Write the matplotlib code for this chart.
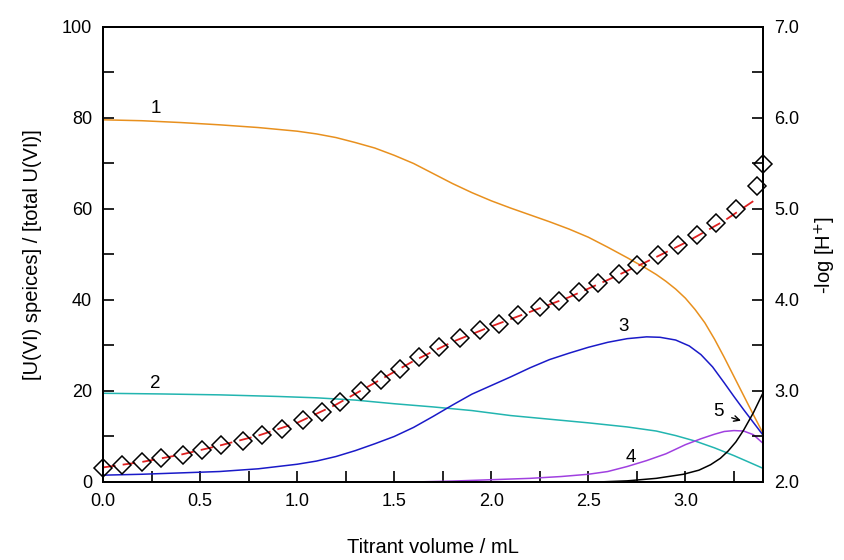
import numpy as np
import matplotlib.pyplot as plt
from matplotlib.ticker import MultipleLocator, FormatStrFormatter

# measured -log[H+] (diamonds)
vol_pts = [0.00, 0.10, 0.20, 0.30, 0.41, 0.51, 0.61, 0.72, 0.82, 0.92, 1.03, 1.13,
           1.22, 1.33, 1.43, 1.53, 1.63, 1.73, 1.84, 1.94, 2.04, 2.14, 2.25, 2.35,
           2.45, 2.55, 2.66, 2.75, 2.86, 2.96, 3.06, 3.16, 3.26, 3.37, 3.40]
ph_pts = [2.15, 2.19, 2.22, 2.26, 2.30, 2.35, 2.41, 2.45, 2.52, 2.58, 2.68, 2.77,
          2.88, 3.00, 3.12, 3.24, 3.37, 3.48, 3.58, 3.67, 3.74, 3.83, 3.92, 3.99,
          4.09, 4.19, 4.29, 4.38, 4.49, 4.60, 4.71, 4.85, 5.00, 5.25, 5.49]

# fitted -log[H+] (red dashed)
fit_vol = [0.0, 0.2, 0.4, 0.6, 0.8, 1.0, 1.2, 1.4, 1.6, 1.8, 2.0, 2.2, 2.4, 2.6,
           2.8, 3.0, 3.2, 3.38]
fit_ph = [2.16, 2.22, 2.30, 2.40, 2.51, 2.65, 2.85, 3.09, 3.33, 3.54, 3.71, 3.87,
          4.03, 4.22, 4.42, 4.63, 4.87, 5.13]

# species distribution curves (% of total U(VI))
c1_vol = [0.0, 0.2, 0.4, 0.6, 0.8, 0.9, 1.0, 1.1, 1.2, 1.3, 1.4, 1.5, 1.6, 1.7,
          1.8, 1.9, 2.0, 2.1, 2.2, 2.3, 2.4, 2.5, 2.6, 2.7, 2.8, 2.85, 2.9, 2.95,
          3.0, 3.05, 3.1, 3.15, 3.2, 3.25, 3.3, 3.35, 3.4]
c1 = [79.6, 79.4, 79.0, 78.5, 77.9, 77.5, 77.1, 76.5, 75.7, 74.6, 73.4, 71.8,
      70.0, 67.8, 65.6, 63.6, 61.8, 60.2, 58.7, 57.2, 55.6, 53.8, 51.6, 49.3,
      46.9, 45.6, 44.1, 42.4, 40.4, 37.9, 35.0, 31.4, 27.4, 23.2, 19.0, 14.8, 10.7]

c2_vol = [0.0, 0.3, 0.6, 0.9, 1.1, 1.3, 1.5, 1.7, 1.9, 2.1, 2.3, 2.5, 2.7, 2.85,
          2.95, 3.05, 3.15, 3.25, 3.32, 3.4]
c2 = [19.5, 19.35, 19.15, 18.8, 18.5, 18.0, 17.2, 16.5, 15.7, 14.6, 13.8, 13.0,
      12.1, 11.2, 10.2, 9.0, 7.5, 5.8, 4.5, 3.0]

c3_vol = [0.0, 0.2, 0.4, 0.6, 0.8, 1.0, 1.1, 1.2, 1.3, 1.4, 1.5, 1.6, 1.7, 1.8,
          1.9, 2.0, 2.1, 2.2, 2.3, 2.4, 2.5, 2.6, 2.7, 2.8, 2.87, 2.95, 3.02,
          3.08, 3.14, 3.2, 3.25, 3.3, 3.35, 3.4]
c3 = [1.5, 1.7, 2.0, 2.3, 2.9, 3.9, 4.6, 5.6, 6.9, 8.4, 10.0, 12.0, 14.4, 16.9,
      19.3, 21.2, 23.1, 25.1, 26.9, 28.3, 29.6, 30.7, 31.5, 31.9, 31.8, 31.2,
      29.9, 28.0, 25.3, 21.8, 18.8, 15.9, 13.1, 10.3]

c4_vol = [1.6, 1.8, 2.0, 2.2, 2.36, 2.5, 2.6, 2.7, 2.8, 2.9, 3.0, 3.08, 3.15,
          3.2, 3.25, 3.3, 3.35, 3.4]
c4 = [0.0, 0.2, 0.5, 0.8, 1.2, 1.7, 2.3, 3.4, 4.7, 6.2, 8.2, 9.5, 10.5, 11.1,
      11.3, 11.2, 10.4, 8.5]

c5_vol = [2.55, 2.7, 2.85, 2.99, 3.07, 3.13, 3.18, 3.22, 3.26, 3.3, 3.35, 3.4]
c5 = [0.0, 0.25, 0.8, 1.7, 2.6, 3.8, 5.2, 6.8, 8.8, 11.4, 15.2, 19.6]

curve_colors = ["#E8901E", "#22B5B0", "#1A1AC8", "#A040E0", "black"]
labels = ["1", "2", "3", "4", "5"]
label_pos = [(0.27, 82.0), (0.27, 21.7), (2.68, 34.2), (2.72, 5.3), (3.17, 15.5)]

plt.rcParams['font.family'] = ['Liberation Sans', 'DejaVu Sans']

fig = plt.figure(figsize=(8.45, 5.6), dpi=100)
ax = fig.add_axes([0.1219, 0.1393, 0.7811, 0.8125])
ax2 = ax.twinx()

for xs, ys, col in zip([c1_vol, c2_vol, c3_vol, c4_vol, c5_vol],
                       [c1, c2, c3, c4, c5], curve_colors):
    ax.plot(xs, ys, color=col, lw=1.1, clip_on=False)

for lab, (lx, ly) in zip(labels, label_pos):
    ax.text(lx, ly, lab, fontsize=13.5, ha="center", va="center")

ax.annotate("", xy=(3.30, 13.3), xytext=(3.225, 14.3),
            arrowprops=dict(arrowstyle="->", color="black", lw=1.0))

ax2.plot(fit_vol, fit_ph, color="#E02020", lw=1.3, dashes=(7, 4))
ax2.plot(vol_pts, ph_pts, linestyle="none", marker="D", markersize=9,
         markerfacecolor="none", markeredgecolor="black", markeredgewidth=1.1,
         clip_on=False)

ax.set_xlim(0, 3.4)
ax.set_ylim(0, 100)
ax2.set_ylim(2.0, 7.0)

ax.xaxis.set_major_locator(MultipleLocator(0.5))
ax.xaxis.set_minor_locator(MultipleLocator(0.25))
ax.xaxis.set_major_formatter(FormatStrFormatter("%.1f"))
ax.yaxis.set_major_locator(MultipleLocator(20))
ax.yaxis.set_minor_locator(MultipleLocator(10))
ax2.yaxis.set_major_locator(MultipleLocator(1.0))
ax2.yaxis.set_minor_locator(MultipleLocator(0.5))
ax2.yaxis.set_major_formatter(FormatStrFormatter("%.1f"))

for a in (ax, ax2):
    a.tick_params(which="both", direction="in", length=8, width=1.2,
                  labelsize=13, pad=8)
    for s in a.spines.values():
        s.set_linewidth(1.4)

ax.set_xlabel("Titrant volume / mL", fontsize=14.5, labelpad=20)
ax.set_ylabel("[U(VI) speices] / [total U(VI)]", fontsize=14.5, labelpad=14)
ax2.set_ylabel("-log [H$^{+}$]", fontsize=14.5, labelpad=10)

fig.savefig("out.png", dpi=100, facecolor="white")
